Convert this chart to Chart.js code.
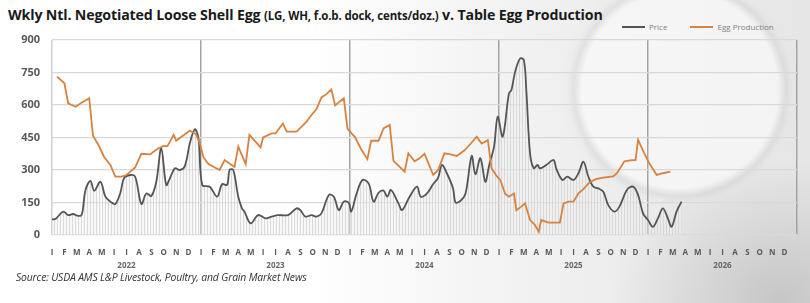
<!DOCTYPE html>
<html>
<head>
<meta charset="utf-8">
<script src="https://cdn.jsdelivr.net/npm/chart.js@4.4.0/dist/chart.umd.min.js"></script>
<style>
  html, body { margin: 0; padding: 0; }
  body {
    width: 810px; height: 303px; position: relative; overflow: hidden;
    font-family: "Open Sans", "Noto Sans", sans-serif;
    background:
      radial-gradient(circle at 680px 90px, rgba(252,252,252,0.6) 0 98px, rgba(200,200,200,0.35) 106px, rgba(225,225,225,0.15) 113px, rgba(235,235,235,0) 122px),
      radial-gradient(ellipse 170px 140px at 780px 300px, rgba(190,190,190,0.8) 0, rgba(215,215,215,0) 100%),
      linear-gradient(to right, #ffffff 0%, #ffffff 38%, #f0f0f0 68%, #e6e6e6 100%);
  }
  #title {
    position: absolute; left: 8px; top: 5px; white-space: nowrap;
    font-weight: 700; font-size: 14.2px; color: #1a1a1a; letter-spacing: -0.15px;
  }
  #title small { font-size: 11.5px; }
  #legend {
    position: absolute; top: 21px; left: 622px; white-space: nowrap;
    font-size: 8px; color: #7f7f7f; line-height: 12px;
  }
  #legend span.item { display: inline-block; }
  #legend span.swatch {
    display: inline-block; width: 23px; height: 2px; vertical-align: middle;
    margin-right: 4px; position: relative; top: -1px;
  }
  #source {
    position: absolute; left: 16px; top: 270px; white-space: nowrap;
    font-style: italic; font-size: 10.4px; color: #333; letter-spacing: -0.15px;
  }
  #wrap { position: absolute; left: 0; top: 0; width: 810px; height: 303px; }
</style>
</head>
<body>
<div id="title">Wkly Ntl. Negotiated Loose Shell Egg <small>(LG, WH, f.o.b. dock, cents/doz.)</small> v. Table Egg Production</div>
<div id="legend"></div>
<div id="wrap"><canvas id="eggChart"></canvas></div>
<div id="source">Source: USDA AMS L&amp;P Livestock, Poultry, and Grain Market News</div>
<script>
// Axis labels
const monthLetters = ['J', 'F', 'M', 'A', 'M', 'J', 'J', 'A', 'S', 'O', 'N', 'D'];
const yearLabels = ['2022', '2023', '2024', '2025', '2026'];

// Price, cents/doz. (x = months since Jan 2022)
const priceMonth = [
  0.0, 0.3, 0.9, 1.3, 1.7, 2.1, 2.4, 2.7, 3.1, 3.4, 3.9, 4.3, 4.7, 5.1, 5.5, 5.8, 6.3, 6.7,
  7.2, 7.6, 8.0, 8.4, 8.8, 9.2, 9.5, 9.9, 10.3, 10.7, 11.1, 11.5, 11.8,
  12.1, 12.7, 13.3, 13.7, 14.1, 14.3, 14.6, 15.0, 15.3, 15.5, 16.0, 16.6, 17.2, 17.7, 18.2,
  19.0, 19.7, 20.0, 20.4, 20.9, 21.3, 21.7, 22.3, 22.7, 23.1, 23.5, 23.9,
  24.1, 24.5, 25.0, 25.5, 25.9, 26.3, 26.7, 27.0, 27.3, 27.9, 28.2, 28.8, 29.4, 29.7, 30.2,
  30.7, 31.1, 31.4, 31.8, 32.3, 32.5, 32.9, 33.3, 33.8, 34.1, 34.5, 34.9, 35.2, 35.6, 35.9,
  36.3, 36.8, 37.0, 37.3, 37.7, 38.0, 38.2, 38.5, 38.8, 39.1, 39.3, 39.8, 40.4, 40.6, 41.1,
  41.5, 42.0, 42.4, 42.8, 43.2, 43.6, 44.0, 44.4, 44.8, 45.3, 45.7, 46.3, 46.8, 47.2, 47.6,
  48.0, 48.4, 48.8, 49.2, 49.6, 49.9, 50.3, 50.7
];
const priceCents = [
  72, 75, 108, 92, 97, 88, 95, 208, 250, 204, 246, 177, 154, 143, 194, 262, 277, 269,
  143, 192, 180, 246, 400, 231, 262, 308, 300, 318, 423, 488, 446,
  231, 223, 177, 235, 231, 300, 300, 177, 123, 108, 54, 92, 77, 85, 92,
  92, 123, 115, 85, 92, 85, 100, 185, 177, 115, 154, 149,
  108, 185, 254, 238, 154, 195, 205, 177, 208, 146, 115, 177, 223, 177, 192,
  235, 265, 323, 285, 215, 150, 158, 190, 365, 280, 354, 246, 320, 408, 546,
  454, 654, 669, 754, 815, 808, 669, 377, 308, 323, 308, 323, 346, 308, 254,
  269, 254, 285, 338, 269, 223, 215, 200, 138, 108, 131, 208, 223, 185, 100,
  69, 38, 77, 123, 77, 38, 108, 154
];

// Table egg production (plotted on the same scale)
const eggMonth = [
  0.4, 1.0, 1.3, 1.9, 2.4, 3.0, 3.3, 3.7, 4.2, 4.7, 5.1, 5.6, 6.0, 6.7, 7.2, 7.9, 8.5, 9.0,
  9.3, 9.8, 10.0, 10.6, 11.1, 11.6, 11.9,
  12.2, 12.6, 13.5, 13.9, 14.7, 15.0, 15.6, 15.9, 16.8, 17.0, 17.7, 18.0, 18.6, 18.9, 19.7,
  20.1, 20.5, 20.9, 21.3, 21.7, 22.1, 22.5, 22.8, 23.5, 23.8,
  24.4, 24.9, 25.4, 25.7, 26.3, 26.7, 27.2, 27.5, 28.4, 28.7, 29.2, 29.6, 30.0, 30.7, 31.1,
  31.6, 32.1, 32.6, 33.2, 33.7, 34.2, 34.6, 35.1, 35.4, 35.8,
  36.1, 36.5, 36.8, 37.2, 37.4, 37.8, 38.1, 38.5, 38.9, 39.2, 39.4, 40.0, 40.9, 41.2, 41.6,
  42.0, 42.4, 42.8, 43.3, 43.8, 44.4, 45.2, 45.5, 46.1, 46.7, 47.0, 47.2, 47.7,
  48.1, 48.7, 49.2, 49.8
];
const eggProduction = [
  731, 700, 608, 592, 612, 631, 458, 420, 360, 323, 269, 269, 277, 312, 375, 372, 398, 411,
  410, 462, 436, 460, 482, 465, 423,
  358, 328, 300, 346, 314, 408, 327, 462, 404, 450, 469, 469, 515, 477, 477,
  500, 523, 554, 581, 635, 650, 672, 598, 631, 490,
  452, 396, 350, 435, 435, 492, 508, 342, 292, 377, 340, 354, 375, 277, 300,
  377, 372, 365, 390, 420, 454, 422, 438, 308, 273,
  254, 190, 177, 192, 115, 131, 146, 69, 46, 15, 69, 57, 57, 146, 154,
  154, 192, 212, 244, 258, 265, 270, 285, 340, 346, 346, 440, 377,
  331, 277, 285, 292
];

function toPoints(xs, ys) {
  return xs.map((x, i) => ({ x: x, y: ys[i] }));
}

// thin vertical stripes under the price line
function stripePattern() {
  const c = document.createElement('canvas');
  c.width = 3; c.height = 4;
  const g = c.getContext('2d');
  g.fillStyle = 'rgba(240,240,240,0.45)';
  g.fillRect(0, 0, 3, 4);
  g.fillStyle = 'rgba(200,200,200,0.6)';
  g.fillRect(0, 0, 1, 4);
  return g.createPattern(c, 'repeat');
}

// html legend built from the chart's datasets
const htmlLegend = {
  id: 'htmlLegend',
  afterUpdate(chart) {
    const box = document.getElementById('legend');
    box.innerHTML = '';
    chart.data.datasets.forEach((ds, i) => {
      const item = document.createElement('span');
      item.className = 'item';
      if (i > 0) item.style.marginLeft = '23px';
      const sw = document.createElement('span');
      sw.className = 'swatch';
      sw.style.background = ds.borderColor;
      item.appendChild(sw);
      item.appendChild(document.createTextNode(ds.label));
      box.appendChild(item);
    });
  }
};

const ctx = document.getElementById('eggChart').getContext('2d');
new Chart(ctx, {
  type: 'line',
  data: {
    datasets: [{
      label: 'Price',
      data: toPoints(priceMonth, priceCents),
      borderColor: '#555555',
      backgroundColor: stripePattern(),
      borderWidth: 1.8,
      fill: 'origin',
      tension: 0.35,
      pointRadius: 0,
      order: 2
    }, {
      label: 'Egg Production',
      data: toPoints(eggMonth, eggProduction),
      borderColor: '#d8823f',
      backgroundColor: '#d8823f',
      borderWidth: 1.8,
      fill: false,
      tension: 0,
      pointRadius: 0,
      order: 1
    }]
  },
  plugins: [htmlLegend],
  options: {
    responsive: true,
    maintainAspectRatio: false,
    animation: false,
    layout: { padding: { left: 0, right: 13, top: 40, bottom: 29 } },
    plugins: {
      legend: { display: false },
      tooltip: { enabled: false }
    },
    scales: {
      x: {
        type: 'linear',
        position: 'bottom',
        min: 0,
        max: 60,
        weight: 0,
        grid: { display: false },
        border: { display: false },
        afterBuildTicks: function(scale) {
          const t = [];
          for (let v = 0; v < 60; v++) t.push({ value: v });
          scale.ticks = t;
        },
        afterFit: function(scale) { scale.height = 20; },
        ticks: {
          autoSkip: false,
          maxRotation: 0,
          padding: 5,
          color: '#595959',
          font: { family: 'Open Sans', size: 8, weight: 'bold' },
          callback: function(value) { return monthLetters[value % 12]; }
        }
      },
      x2: {
        type: 'linear',
        position: 'bottom',
        min: 0,
        max: 60,
        weight: 1,
        border: { display: false },
        grid: {
          drawTicks: false,
          lineWidth: 1.5,
          color: function(c) {
            if (!c.tick) return 'transparent';
            const v = c.tick.value;
            if (v === 0) return '#d0d0d0';
            return v % 12 === 0 ? '#a3a3a3' : 'transparent';
          }
        },
        afterBuildTicks: function(scale) {
          const t = [];
          for (let v = 0; v <= 60; v += 6) t.push({ value: v });
          scale.ticks = t;
        },
        afterFit: function(scale) { scale.height = 19; },
        ticks: {
          autoSkip: false,
          maxRotation: 0,
          padding: 6,
          color: '#666666',
          font: { family: 'Open Sans', size: 8, weight: 'bold' },
          callback: function(value) {
            return value % 12 === 6 ? yearLabels[(value - 6) / 12] : '';
          }
        }
      },
      y: {
        min: 0,
        max: 900,
        border: { display: false },
        afterFit: function(scale) { scale.width = 52; },
        grid: { color: '#d9d9d9', lineWidth: 1.2, drawTicks: false },
        ticks: {
          stepSize: 150,
          padding: 12,
          color: '#595959',
          font: { family: 'Open Sans', size: 11, weight: 'bold' }
        }
      }
    }
  }
});
</script>
</body>
</html>
